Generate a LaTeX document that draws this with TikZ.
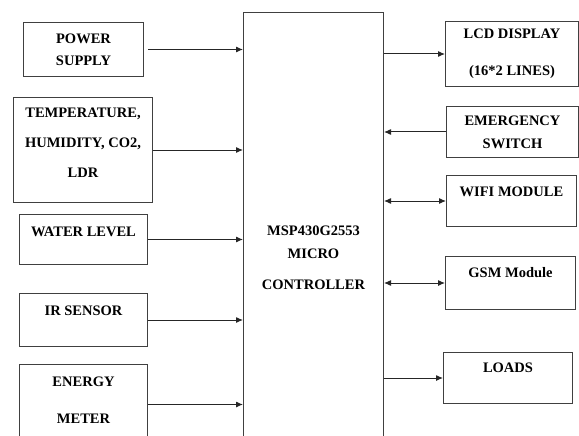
\documentclass[tikz,border=0pt]{standalone}
\usepackage{fontspec}
\setmainfont{Liberation Serif}
\usetikzlibrary{arrows.meta}

\begin{document}
\begin{tikzpicture}[
  x=1pt,y=-1pt,
  >={Latex[length=7pt,width=6pt]},
  font=\fontsize{14.5}{15}\selectfont\bfseries,
  box/.style={draw=black!75, line width=1pt, anchor=north west, align=center, inner sep=0pt},
  arrow/.style={->, draw=black!85, line width=1pt},
  both/.style={<->, draw=black!85, line width=1pt}
]
\useasboundingbox (0,0) rectangle (579,436);
\clip (0,0) rectangle (579,436);

% controller in the middle, it runs off the bottom edge
\node[box, minimum width=140pt, minimum height=490pt] (mcu) at (243,12) {MSP430G2553\\[8pt]MICRO\\[16pt]CONTROLLER};

% inputs on the left
\node[box, minimum width=120pt, minimum height=54pt] (power) at (23,22) {POWER\\[7pt]SUPPLY};
\node[box, minimum width=139pt, minimum height=105pt] (sensors) at (13,97) {TEMPERATURE,\\[15pt]HUMIDITY, CO2,\\[15pt]LDR\\[-1pt]\mbox{}};
\node[box, minimum width=128pt, minimum height=50pt] (water) at (19,214) {WATER LEVEL\\[1pt]\mbox{}};
\node[box, minimum width=128pt, minimum height=53pt] (ir) at (19,293) {IR SENSOR\\[4pt]\mbox{}};
\node[box, minimum width=128pt, minimum height=80pt] (energy) at (19,364) {ENERGY\\[22pt]METER\\[-6pt]\mbox{}};

% peripherals on the right
\node[box, minimum width=133pt, minimum height=65pt] (lcd) at (445,21) {LCD DISPLAY\\[22pt](16*2 LINES)};
\node[box, minimum width=132pt, minimum height=51pt] (emerg) at (446,106) {EMERGENCY\\[8pt]SWITCH};
\node[box, minimum width=130pt, minimum height=51pt] (wifi) at (446,175) {WIFI MODULE\\[4pt]\mbox{}};
\node[box, minimum width=130pt, minimum height=53pt] (gsm) at (445,256) {GSM Module\\[6pt]\mbox{}};
\node[box, minimum width=129pt, minimum height=51pt] (loads) at (443,352) {LOADS\\[6pt]\mbox{}};

\draw[arrow] ([xshift=4pt]power.east) -- (power.east -| mcu.west);
\draw[arrow] (sensors.east) -- (sensors.east -| mcu.west);
\draw[arrow] (water.east) -- (water.east -| mcu.west);
\draw[arrow] (ir.east) -- (ir.east -| mcu.west);
\draw[arrow] (energy.east) -- (energy.east -| mcu.west);

\draw[arrow] (mcu.east |- lcd.west) -- (lcd.west);
\draw[arrow] (emerg.west) -- (emerg.west -| mcu.east);
\draw[both] (mcu.east |- wifi.west) -- (wifi.west);
\draw[both] (mcu.east |- gsm.west) -- (gsm.west);
\draw[arrow] (mcu.east |- loads.west) -- (loads.west);
\end{tikzpicture}
\end{document}
